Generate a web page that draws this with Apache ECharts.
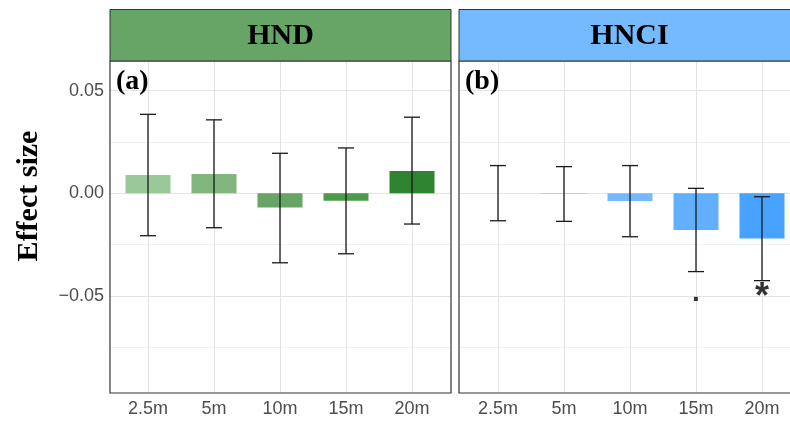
<!DOCTYPE html>
<html>
<head>
<meta charset="utf-8">
<script src="https://cdn.jsdelivr.net/npm/echarts@6/dist/echarts.min.js"></script>
<style>html,body{margin:0;padding:0;background:#fff;}#c{width:790px;height:421px;}</style>
</head>
<body>
<div id="c"></div>
<script>
// ---- data ----
const categories = ['2.5m', '5m', '10m', '15m', '20m'];
const hndMean  = [0.0089, 0.0094, -0.0070, -0.0036, 0.0109];
const hndLower = [-0.0207, -0.0168, -0.0339, -0.0295, -0.0150];
const hndUpper = [0.0385, 0.0358, 0.0195, 0.0221, 0.0371];
const hnciMean  = [0.0000, -0.0004, -0.0038, -0.0179, -0.0220];
const hnciLower = [-0.0134, -0.0137, -0.0212, -0.0382, -0.0426];
const hnciUpper = [0.0135, 0.0130, 0.0135, 0.0024, -0.0017];
const hndSig = ['', '', '', '', ''];
const hnciSig = ['', '', '', '.', '*'];
const sigY = -0.049;
const yTickValues = [-0.05, 0, 0.05];
const yTickLabels = ['\u22120.05', '0.00', '0.05'];
const hndColors = ['#9bc899', '#80b57d', '#67a564', '#4e9a4b', '#2e8331'];
const hnciColors = ['#cfe6ff', '#98cbff', '#74b8ff', '#62aeff', '#48a2ff'];

// ---- layout ----
const PANEL_TOP = 61, PANEL_BOTTOM = 393, PANEL_W = 341;
const YMIN = -0.0974, YMAX = 0.0645;
const scale = (PANEL_BOTTOM - PANEL_TOP) / (YMAX - YMIN);
const GA_MIN = -0.1, GA_MAX = 0.075;
const gaTop = PANEL_TOP - (GA_MAX - YMAX) * scale;
const gaH = (GA_MAX - GA_MIN) * scale;
const STEP = 66;
const panels = [
  {left: 110, first: 148, strip: '#67a567', title: 'HND', tag: '(a)', mean: hndMean, lo: hndLower, hi: hndUpper, colors: hndColors, sig: hndSig, labels: true},
  {left: 459, first: 498, strip: '#75b9ff', title: 'HNCI', tag: '(b)', mean: hnciMean, lo: hnciLower, hi: hnciUpper, colors: hnciColors, sig: hnciSig, labels: false}
];

const SANS = 'Liberation Sans, Arial, sans-serif';
const SERIF = 'Liberation Serif, Times New Roman, serif';
const grid = [], xAxis = [], yAxis = [], series = [], graphic = [];

panels.forEach((p, k) => {
  const ga = grid.length;
  grid.push({left: p.left, top: gaTop, width: PANEL_W, height: gaH, show: false, containLabel: false});
  xAxis.push({gridIndex: ga, type: 'value', show: false, min: 0, max: 1});
  yAxis.push({
    gridIndex: ga, type: 'value', min: GA_MIN, max: GA_MAX, interval: 0.025,
    axisLine: {show: false}, axisTick: {show: false},
    axisLabel: {
      show: p.labels, margin: 6, color: '#4d4d4d', fontFamily: SANS, fontSize: 18,
      formatter: v => {
        const i = yTickValues.findIndex(t => Math.abs(t - v) < 1e-9);
        return i >= 0 ? yTickLabels[i] : '';
      }
    },
    splitLine: {show: true, showMinLine: false, showMaxLine: false, lineStyle: {color: ['#f0f0f0', '#e4e4e4'], width: 1}}
  });
  const gb = grid.length;
  grid.push({left: p.first, top: PANEL_TOP, width: STEP * (categories.length - 1), height: PANEL_BOTTOM - PANEL_TOP, show: false});
  xAxis.push({
    gridIndex: gb, type: 'category', data: categories, boundaryGap: false,
    axisLine: {show: false}, axisTick: {show: false},
    axisLabel: {interval: 0, margin: 7, color: '#4d4d4d', fontFamily: SANS, fontSize: 18},
    splitLine: {show: true, interval: 0, lineStyle: {color: '#e4e4e4', width: 1}}
  });
  yAxis.push({gridIndex: gb, type: 'value', min: YMIN, max: YMAX, show: false, splitLine: {show: false}});

  series.push({
    type: 'bar', xAxisIndex: gb, yAxisIndex: gb, barWidth: 45, clip: false,
    data: p.mean.map((v, i) => ({value: v, itemStyle: {color: p.colors[i]}})),
    z: 2
  });
  series.push({
    type: 'custom', xAxisIndex: gb, yAxisIndex: gb, clip: false, z: 3,
    encode: {x: 0, y: [1, 2]},
    data: p.lo.map((v, i) => [i, v, p.hi[i]]),
    renderItem: (params, api) => {
      const x = api.value(0);
      const a = api.coord([x, api.value(2)]);
      const b = api.coord([x, api.value(1)]);
      const w = 8;
      const st = {stroke: '#1a1a1a', lineWidth: 1.3};
      return {type: 'group', children: [
        {type: 'line', shape: {x1: a[0], y1: a[1], x2: b[0], y2: b[1]}, style: st},
        {type: 'line', shape: {x1: a[0] - w, y1: a[1], x2: a[0] + w, y2: a[1]}, style: st},
        {type: 'line', shape: {x1: b[0] - w, y1: b[1], x2: b[0] + w, y2: b[1]}, style: st}
      ]};
    }
  });
  const sigData = p.sig.map((s, i) => s ? {value: [i, sigY], label: s === '*'
      ? {formatter: s, fontSize: 36, offset: [0, 4]}
      : {formatter: s, fontSize: 28}} : null).filter(d => d);
  if (sigData.length) {
    series.push({
      type: 'scatter', xAxisIndex: gb, yAxisIndex: gb, symbolSize: 0, clip: false, z: 4,
      data: sigData,
      label: {show: true, position: 'inside', color: '#000', textBorderWidth: 0, fontFamily: SANS, fontWeight: 'bold', fontSize: 28}
    });
  }
  // panel border
  graphic.push({type: 'rect', z: 100, shape: {x: p.left, y: PANEL_TOP, width: PANEL_W, height: PANEL_BOTTOM - PANEL_TOP},
    style: {fill: 'none', stroke: '#333333', lineWidth: 1.2}});
  // strip
  graphic.push({type: 'rect', z: 100, shape: {x: p.left, y: 9.5, width: PANEL_W, height: PANEL_TOP - 9.5},
    style: {fill: p.strip, stroke: '#333333', lineWidth: 1}});
  graphic.push({type: 'text', z: 101, x: p.left + PANEL_W / 2, y: 36,
    style: {text: p.title, fill: '#000', font: 'bold 30px ' + SERIF, align: 'center', verticalAlign: 'middle'}});
  graphic.push({type: 'text', z: 101, x: p.left + 6, y: 82,
    style: {text: p.tag, fill: '#000', font: 'bold 28px ' + SERIF, align: 'left', verticalAlign: 'middle'}});
});

graphic.push({type: 'text', z: 101, x: 29, y: 196, rotation: Math.PI / 2,
  style: {text: 'Effect size', fill: '#000', font: 'bold 30px ' + SERIF, align: 'center', verticalAlign: 'middle'}});

const chart = echarts.init(document.getElementById('c'), null, {renderer: 'canvas'});
chart.setOption({animation: false, backgroundColor: '#fff', grid, xAxis, yAxis, series, graphic});
</script>
</body>
</html>
